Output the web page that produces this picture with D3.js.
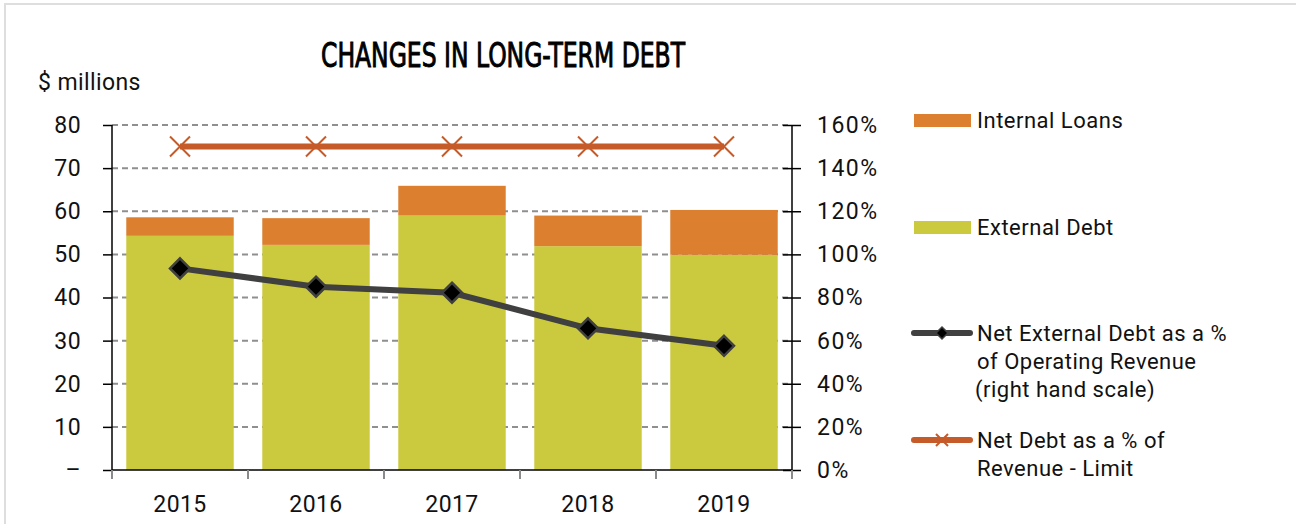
<!DOCTYPE html>
<html>
<head>
<meta charset="utf-8">
<script src="https://cdn.jsdelivr.net/npm/d3@7"></script>
<style>
  body { margin: 0; background: #fff; }
  svg { display: block; font-family: Roboto, "Noto Sans", sans-serif; }
</style>
</head>
<body>
<div id="container"></div>
<script>
/* DATA */
const years = ["2015", "2016", "2017", "2018", "2019"];
const externalDebt = [54.3, 52.2, 59.0, 51.9, 49.9];
const internalLoans = [4.3, 6.2, 6.9, 7.1, 10.4];
const netExtPct = [93.5, 85.0, 82.2, 65.7, 57.6];
const limitPct = [150, 150, 150, 150, 150];
const leftTicks = [0, 10, 20, 30, 40, 50, 60, 70, 80];
const rightTicks = [0, 20, 40, 60, 80, 100, 120, 140, 160];

/* CONSTANTS */
const width = 1296, height = 524;
const margin = { top: 125, bottom: 54, left: 112, right: 504 };

const colExternal = "#cbca3e",
  colInternal = "#dc7f2f",
  colLine = "#404040",
  colLimit = "#c65b2a",
  colGrid = "#8f8f8f";

const labelFont = 23, labelSpacing = 0.4;

const svg = d3.select("#container")
  .append("svg")
  .attr("width", width)
  .attr("height", height);

// outer frame
svg.append("rect")
  .attr("x", 5).attr("y", 4)
  .attr("width", width + 10).attr("height", height + 10)
  .attr("fill", "none")
  .attr("stroke", "#dedede")
  .attr("stroke-width", 2);

// scales
const xScale = d3.scaleBand()
  .domain(years)
  .range([margin.left, width - margin.right])
  .paddingInner(0.21)
  .paddingOuter(0.105);

const yScale = d3.scaleLinear()
  .domain([0, 80])
  .range([height - margin.bottom, margin.top]);

const yScaleR = d3.scaleLinear()
  .domain([0, 160])
  .range([height - margin.bottom, margin.top]);

const x0 = margin.left, x1 = width - margin.right;
const yBase = yScale(0);

// gridlines (behind bars)
svg.append("g")
  .selectAll("line")
  .data(leftTicks.filter(d => d > 0))
  .join("line")
  .attr("x1", x0).attr("x2", x1)
  .attr("y1", d => yScale(d)).attr("y2", d => yScale(d))
  .attr("stroke", colGrid)
  .attr("stroke-width", 2)
  .attr("stroke-dasharray", "6,4");

// stacked bars
const stackData = years.map((y, i) => ({ year: y, ext: externalDebt[i], int: internalLoans[i] }));

svg.append("g")
  .selectAll("rect")
  .data(stackData)
  .join("rect")
  .attr("x", d => xScale(d.year))
  .attr("width", xScale.bandwidth())
  .attr("y", d => yScale(d.ext))
  .attr("height", d => yBase - yScale(d.ext))
  .attr("fill", colExternal);

svg.append("g")
  .selectAll("rect")
  .data(stackData)
  .join("rect")
  .attr("x", d => xScale(d.year))
  .attr("width", xScale.bandwidth())
  .attr("y", d => yScale(d.ext + d.int))
  .attr("height", d => yScale(d.ext) - yScale(d.ext + d.int))
  .attr("fill", colInternal);

// left axis
const yAxis = d3.axisLeft(yScale)
  .tickValues(leftTicks)
  .tickSize(9)
  .tickPadding(22)
  .tickFormat(d => d === 0 ? "–" : d);

const gL = svg.append("g")
  .attr("transform", `translate(${x0},0)`)
  .call(yAxis);
gL.select(".domain").attr("stroke", "#000").attr("stroke-width", 1.5).attr("d", `M0,${yScale(80)}V${yBase}`);
gL.selectAll(".tick line").attr("stroke", "#000").attr("stroke-width", 1.5);
gL.selectAll(".tick text").attr("font-size", labelFont).attr("letter-spacing", labelSpacing)
  .attr("fill", "#111").attr("font-family", "Roboto, sans-serif");

// right axis
const yAxisR = d3.axisRight(yScaleR)
  .tickValues(rightTicks)
  .tickSize(9)
  .tickPadding(16)
  .tickFormat(d => d + "%");

const gR = svg.append("g")
  .attr("transform", `translate(${x1},0)`)
  .call(yAxisR);
gR.select(".domain").attr("stroke", "#000").attr("stroke-width", 1.5).attr("d", `M0,${yScaleR(160)}V${yBase}`);
gR.selectAll(".tick line").attr("x1", -9).attr("stroke", "#000").attr("stroke-width", 1.5);
gR.selectAll(".tick text").attr("font-size", labelFont).attr("letter-spacing", 1.5)
  .attr("fill", "#111").attr("font-family", "Roboto, sans-serif");

// x axis
const xAxis = d3.axisBottom(xScale).tickSize(0).tickPadding(26);
const gX = svg.append("g")
  .attr("transform", `translate(0,${yBase})`)
  .call(xAxis);
gX.select(".domain").attr("stroke", "#000").attr("stroke-width", 1.5).attr("d", `M${x0},0H${x1}`);
gX.selectAll(".tick text").attr("font-size", labelFont).attr("letter-spacing", labelSpacing)
  .attr("fill", "#111").attr("font-family", "Roboto, sans-serif");

// category separators on x axis
const sepX = years.map(y => xScale(y) - xScale.step() * xScale.paddingInner() / 2).concat([x1]);
svg.append("g")
  .selectAll("line")
  .data(sepX)
  .join("line")
  .attr("x1", d => d).attr("x2", d => d)
  .attr("y1", yBase).attr("y2", yBase + 9)
  .attr("stroke", "#8a8a8a")
  .attr("stroke-width", 2);

const cx = d => xScale(d) + xScale.bandwidth() / 2;

// limit line
const lineGen = d3.line()
  .x(d => cx(d.year))
  .y(d => yScaleR(d.v));

const limitData = years.map((y, i) => ({ year: y, v: limitPct[i] }));
svg.append("path")
  .datum(limitData)
  .attr("fill", "none")
  .attr("stroke", colLimit)
  .attr("stroke-width", 6)
  .attr("d", lineGen);

const xMark = (x, y, s) => `M${x - s},${y - s}L${x + s},${y + s}M${x - s},${y + s}L${x + s},${y - s}`;
svg.append("g")
  .selectAll("path")
  .data(limitData)
  .join("path")
  .attr("d", d => xMark(cx(d.year), yScaleR(d.v), 10))
  .attr("stroke", colLimit)
  .attr("stroke-width", 2)
  .attr("fill", "none");

// net external debt line
const netData = years.map((y, i) => ({ year: y, v: netExtPct[i] }));
svg.append("path")
  .datum(netData)
  .attr("fill", "none")
  .attr("stroke", colLine)
  .attr("stroke-width", 6)
  .attr("d", lineGen);

const diamond = (x, y, s) => `M${x},${y - s}L${x + s},${y}L${x},${y + s}L${x - s},${y}Z`;
svg.append("g")
  .selectAll("path")
  .data(netData)
  .join("path")
  .attr("d", d => diamond(cx(d.year), yScaleR(d.v), 10))
  .attr("fill", "#000")
  .attr("stroke", colLine)
  .attr("stroke-width", 2.5);

// title
svg.append("text")
  .attr("x", 503)
  .attr("y", 67)
  .attr("text-anchor", "middle")
  .attr("font-family", "'Liberation Sans Narrow', 'DejaVu Sans Condensed', sans-serif")
  .attr("font-size", 33)
  .attr("textLength", 364)
  .attr("lengthAdjust", "spacingAndGlyphs")
  .attr("fill", "#000")
  .attr("stroke", "#000")
  .attr("stroke-width", 0.9)
  .text("CHANGES IN LONG-TERM DEBT");

svg.append("text")
  .attr("x", 38)
  .attr("y", 90)
  .attr("font-size", labelFont)
  .attr("letter-spacing", labelSpacing)
  .attr("fill", "#111")
  .text("$ millions");

// legend
const lg = svg.append("g").attr("font-size", 22).attr("letter-spacing", 0.5).attr("fill", "#111");

lg.append("rect").attr("x", 914).attr("y", 114).attr("width", 57).attr("height", 13).attr("fill", colInternal);
lg.append("text").attr("x", 977).attr("y", 128).text("Internal Loans");

lg.append("rect").attr("x", 914).attr("y", 221).attr("width", 57).attr("height", 13).attr("fill", colExternal);
lg.append("text").attr("x", 977).attr("y", 235).text("External Debt");

lg.append("line").attr("x1", 914).attr("x2", 970).attr("y1", 333).attr("y2", 333)
  .attr("stroke", colLine).attr("stroke-width", 6).attr("stroke-linecap", "round");
lg.append("path").attr("d", diamond(942, 333, 6)).attr("fill", "#000").attr("stroke", colLine).attr("stroke-width", 1.5);
["Net External Debt as a %", "of Operating Revenue", "(right hand scale)"].forEach((t, i) => {
  lg.append("text").attr("x", t.startsWith("(") ? 975 : 977).attr("y", 341 + i * 28).text(t);
});

lg.append("line").attr("x1", 914).attr("x2", 970).attr("y1", 440).attr("y2", 440)
  .attr("stroke", colLimit).attr("stroke-width", 6).attr("stroke-linecap", "round");
lg.append("path").attr("d", xMark(942, 440, 6)).attr("stroke", colLimit).attr("stroke-width", 2).attr("fill", "none");
["Net Debt as a % of", "Revenue - Limit"].forEach((t, i) => {
  lg.append("text").attr("x", 977).attr("y", 448 + i * 28).text(t);
});
</script>
</body>
</html>
